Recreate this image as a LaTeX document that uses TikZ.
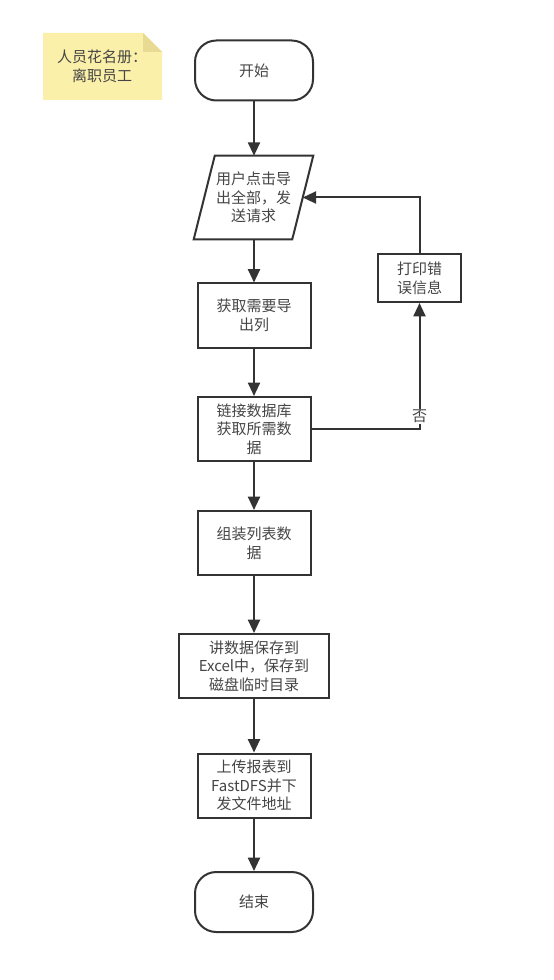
\documentclass[tikz,border=0pt]{standalone}
\usepackage{fontspec}
\setmainfont{Noto Sans CJK SC}
\usetikzlibrary{arrows.meta}
\definecolor{ink}{HTML}{333333}
\definecolor{txt}{HTML}{454545}
\definecolor{notefill}{HTML}{FBF0A9}
\definecolor{notefold}{HTML}{E8DA93}
\begin{document}
\begin{tikzpicture}[x=0.75pt,y=-0.75pt,
  every node/.style={font=\fontsize{11.25pt}{14pt}\selectfont, text=txt, align=center},
  proc/.style={draw=ink, line width=1.5pt, fill=white, minimum width=84.75pt, minimum height=48pt, inner sep=0pt},
  wideproc/.style={proc, minimum width=112.5pt},
  smallproc/.style={proc, minimum width=62.25pt, minimum height=36pt},
  terminal/.style={draw=ink, line width=1.5pt, fill=white, rounded corners=16pt, minimum width=88.5pt, minimum height=45pt, inner sep=0pt},
  iobox/.style={minimum width=89.25pt, minimum height=62.25pt, inner sep=0pt},
  outline/.style={draw=ink, line width=1.5pt, fill=white, line join=miter},
  flow/.style={draw=ink, line width=1.5pt, -{Triangle[length=10pt,width=9pt]}},
  tag/.style={fill=white, inner sep=1pt}
]
% canvas
\fill[white] (0,0) rectangle (553,980);

% sticky note
\fill[notefill] (43,33) -- (143,33) -- (162,52) -- (162,100) -- (43,100) -- cycle;
\fill[notefold] (143,33) -- (162,52) -- (143,52) -- cycle;
\node (note) at (102,66) {人员花名册：\\离职员工};

% input step: parallelogram drawn around its node
\node[iobox] (req) at (253.5,197.5) {};
\draw[outline] (req.south west) -- ([xshift=15.75pt]req.north west) -- (req.north east)
  -- ([xshift=-15.75pt]req.south east) -- cycle;
\node at (req) {用户点击导\\出全部，发\\送请求};
\coordinate (reqR) at ([xshift=-7.9pt]req.east);

% flow steps
\node[terminal] (start) at (254,70.5) {开始};
\node[proc] (cols) at (254,315.5) {获取需要导\\出列};
\node[proc] (db) at (254,429) {链接数据库\\获取所需数\\据};
\node[proc] (build) at (254,543) {组装列表数\\据};
\node[wideproc] (excel) at (254,666) {讲数据保存到\\Excel中，保存到\\磁盘临时目录};
\node[proc] (upload) at (254,785.5) {上传报表到\\FastDFS并下\\发文件地址};
\node[terminal] (end) at (254,902) {结束};
\node[smallproc] (err) at (419.5,278) {打印错\\误信息};

% connectors
\draw[flow] (start) -- (start |- req.north);
\draw[flow] (req.south -| cols) -- (cols);
\draw[flow] (cols) -- (db);
\draw[flow] (db) -- (build);
\draw[flow] (build) -- (excel);
\draw[flow] (excel) -- (upload);
\draw[flow] (upload) -- (end);
\draw[flow] (db.east) -| node[tag, pos=0.55] {否} (err.south);
\draw[flow] (err.north) |- (reqR);
\end{tikzpicture}
\end{document}
